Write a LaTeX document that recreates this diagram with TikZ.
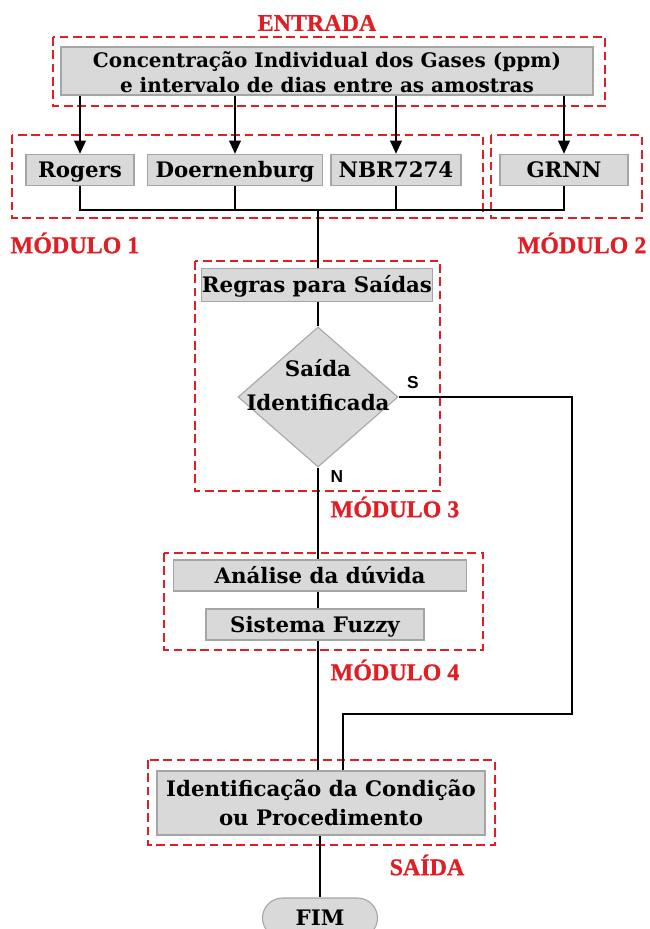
\documentclass[tikz,border=0pt]{standalone}
\usepackage{fontspec}
\setmainfont{DejaVu Serif}
\newfontfamily\tagfamily[FakeBold=0.8]{Liberation Serif}
\newfontfamily\ynfamily{Liberation Sans}
\usetikzlibrary{shapes.geometric,shapes.misc,arrows.meta}

\definecolor{grpred}{RGB}{225,30,35}
\definecolor{boxfill}{RGB}{217,217,217}
\definecolor{boxline}{RGB}{165,165,165}

\newcommand\boxfont{\fontsize{16}{19}\selectfont\bfseries}
\newcommand\tagfont{\tagfamily\fontsize{18}{21}\selectfont\bfseries}
\newcommand\yesnofont{\ynfamily\fontsize{13}{15}\selectfont\bfseries}

\tikzset{
  wh/.style 2 args={minimum width=#1*0.75pt, minimum height=#2*0.75pt},
  box/.style={draw=boxline, fill=boxfill, line width=0.8pt, inner sep=0pt,
              font=\boxfont, align=center, text=black},
  oneline/.style={text height=12.5pt, text depth=1pt},
  grp/.style={draw=grpred, line width=2.1pt, dash pattern=on 6.5pt off 3.5pt},
  tag/.style={text=grpred, font=\tagfont, inner sep=0pt},
  yn/.style={font=\yesnofont, inner sep=0pt},
  link/.style={line width=1.2pt, draw=black},
  feed/.style={line width=2pt, draw=black, -{Triangle[length=10pt,width=8.5pt]}},
}

\begin{document}
\begin{tikzpicture}[x=0.75pt,y=-0.75pt]
  \useasboundingbox (0,0) rectangle (650,929);
  \clip (0,0) rectangle (650,929);

  % dashed group frames
  \draw[grp] (53,37) rectangle (605,106);
  \draw[grp] (12,135) rectangle (483,218);
  \draw[grp] (491,135) rectangle (642,218);
  \draw[grp] (195,261) rectangle (440,491);
  \draw[grp] (164,553) rectangle (483,650);
  \draw[grp] (148,760) rectangle (495,845);

  % group titles
  \node[tag] (tEnt) at (317,23) {ENTRADA};
  \node[tag] (tM1) at (75,243) {MÓDULO 1};
  \node[tag] (tM2) at (582,243) {MÓDULO 2};
  \node[tag] (tM3) at (395,507) {MÓDULO 3};
  \node[tag] (tM4) at (395,670) {MÓDULO 4};
  \node[tag] (tSai) at (427,865) {SAÍDA};

  % process boxes
  \node[box, wh={532}{48}, text height=32pt, text depth=0pt,
        font=\fontsize{15}{19}\selectfont\bfseries] (inp) at (327,71)
    {Concentração Individual dos Gases (ppm)\\e intervalo de dias entre as amostras};
  \node[box, oneline, wh={108}{31}] (rog) at (80,170) {Rogers};
  \node[box, oneline, wh={175}{31}] (doe) at (235,170) {Doernenburg};
  \node[box, oneline, wh={130}{31}] (nbr) at (396,170) {NBR7274};
  \node[box, oneline, wh={128}{31}] (grnn) at (564,170) {GRNN};
  \node[box, oneline, wh={231}{33}] (reg) at (317,285) {Regras para Saídas};
  \node[draw=boxline, fill=boxfill, line width=0.8pt, diamond, inner sep=-40pt,
        wh={160}{140}] (dia) at (318,397) {};
  \node[font=\fontsize{16}{26}\selectfont\bfseries, align=center, inner sep=0pt]
    (diaText) at (318,385) {Saída\\Identificada};
  \node[box, oneline, wh={293}{31}] (ana) at (320,575.5) {Análise da dúvida};
  \node[box, oneline, wh={218}{31}] (sis) at (315,624.5) {Sistema Fuzzy};
  \node[box, wh={328}{64}, font=\fontsize{16}{22}\selectfont\bfseries] (ide) at (321,803)
    {Identificação da Condição\\ou Procedimento};
  \node[box, oneline, rounded rectangle, wh={115}{40}] (fim) at (320,918) {FIM};

  % inputs feeding the methods
  \draw[feed] (inp.south -| rog.north) -- (rog.north);
  \draw[feed] (inp.south -| doe.north) -- (doe.north);
  \draw[feed] (inp.south -| nbr.north) -- (nbr.north);
  \draw[feed] (inp.south -| grnn.north) -- (grnn.north);

  % collecting bus
  \coordinate (bus) at (318,210);
  \draw[link] (rog.south) -- (rog.south |- bus) -- (grnn.south |- bus) -- (grnn.south);
  \draw[link] (doe.south) -- (doe.south |- bus);
  \draw[link] (nbr.south) -- (nbr.south |- bus);

  % main spine
  \draw[link] (bus) -- (bus |- reg.north);
  \draw[link] (bus |- reg.south) -- (dia.north);
  \draw[link] (dia.south) -- (bus |- ana.north);
  \draw[link] (bus |- ana.south) -- (bus |- sis.north);
  \draw[link] (bus |- sis.south) -- (bus |- ide.north);
  \draw[link] (fim.north |- ide.south) -- (fim.north);

  % "yes" branch straight to the output
  \coordinate (r1) at (572,714);
  \coordinate (r2) at (343,714);
  \draw[link] (dia.east) -| (r1) -- (r2) -- (r2 |- ide.north);

  \node[yn] (yes) at (413,383) {S};
  \node[yn] (no) at (337,477) {N};
\end{tikzpicture}
\end{document}
